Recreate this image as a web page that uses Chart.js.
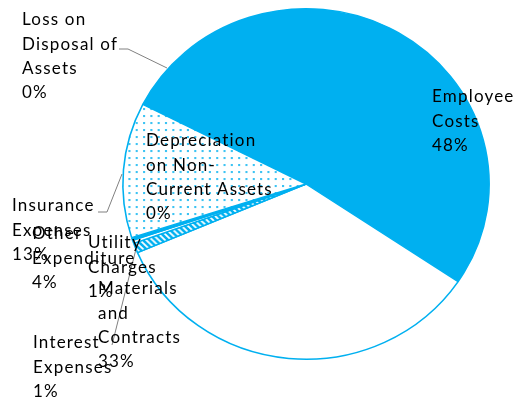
<!DOCTYPE html>
<html>
<head>
<meta charset="utf-8">
<script src="https://cdn.jsdelivr.net/npm/chart.js@4"></script>
<style>
  html, body { margin: 0; padding: 0; background: #fff; }
  #wrap { width: 526px; height: 402px; }
</style>
</head>
<body>
<div id="wrap"><canvas id="pie" width="526" height="402"></canvas></div>
<script>
// slice names (split into the lines they are shown on)
const categories = [
    ['Employee', 'Costs'],
    ['Materials', 'and', 'Contracts'],
    ['Interest', 'Expenses'],
    ['Utility', 'Charges'],
    ['Other', 'Expenditure'],
    ['Insurance', 'Expenses'],
    ['Depreciation', 'on Non-', 'Current Assets'],
    ['Loss on', 'Disposal of', 'Assets']
];
// slice sizes as they are drawn in the picture
const sliceValues = [51.9, 34.2, 0.9, 0.3, 0.25, 12.45, 0, 0];
// percentages printed in the data labels
const pctLabels = ['48%', '33%', '1%', '1%', '4%', '13%', '0%', '0%'];

const BLUE = '#00B0F0';

function dotPattern() {
    const c = document.createElement('canvas');
    c.width = 7; c.height = 7;
    const g = c.getContext('2d');
    g.fillStyle = '#fff';
    g.fillRect(0, 0, 7, 7);
    g.fillStyle = '#3cc3f3';
    g.fillRect(3, 3, 2, 2);
    return g.createPattern(c, 'repeat');
}

function hatchPattern() {
    const c = document.createElement('canvas');
    c.width = 6; c.height = 6;
    const g = c.getContext('2d');
    g.fillStyle = '#fff';
    g.fillRect(0, 0, 6, 6);
    g.strokeStyle = BLUE;
    g.lineWidth = 2.5;
    g.beginPath();
    g.moveTo(-1, -1); g.lineTo(7, 7);
    g.moveTo(-4, 2); g.lineTo(4, 10);
    g.moveTo(2, -4); g.lineTo(10, 4);
    g.stroke();
    return g.createPattern(c, 'repeat');
}

// where each label starts (x, centre of first line) and its leader line
const labelPos = [[432, 97], [98, 289], [33, 343], [88, 243], [32, 234], [12, 206], [146, 141], [22, 20]];
const leaders = [
    null, null,
    [[112, 345], [136, 249]],
    null, null,
    [[98, 212], [107, 212], [122, 174]],
    null,
    [[119, 49], [128, 49], [167, 68]]
];

// pie is drawn a little wider than tall, like the original
const stretchPlugin = {
    id: 'stretch',
    beforeDatasetsDraw(chart) {
        const a = chart.chartArea;
        const cx = (a.left + a.right) / 2;
        chart.ctx.save();
        chart.ctx.translate(cx, 0);
        chart.ctx.scale(1.045, 1);
        chart.ctx.translate(-cx, 0);
    },
    afterDatasetsDraw(chart) {
        chart.ctx.restore();
    }
};

const labelPlugin = {
    id: 'pieLabels',
    afterDatasetsDraw(chart) {
        const ctx = chart.ctx;
        ctx.save();
        ctx.strokeStyle = '#808080';
        ctx.lineWidth = 1;
        leaders.forEach(pts => {
            if (!pts) return;
            ctx.beginPath();
            ctx.moveTo(pts[0][0], pts[0][1]);
            for (let i = 1; i < pts.length; i++) ctx.lineTo(pts[i][0], pts[i][1]);
            ctx.stroke();
        });
        ctx.fillStyle = '#000';
        ctx.font = '17px Lato, "Open Sans", sans-serif';
        ctx.letterSpacing = '1.2px';
        ctx.textBaseline = 'middle';
        ctx.textAlign = 'left';
        chart.data.labels.forEach((lines, i) => {
            const [x, y] = labelPos[i];
            const all = lines.concat([pctLabels[i]]);
            all.forEach((t, k) => ctx.fillText(t, x, y + k * 24.3));
        });
        ctx.restore();
    }
};

new Chart(document.getElementById('pie'), {
    type: 'pie',
    data: {
        labels: categories,
        datasets: [{
            data: sliceValues,
            backgroundColor: [BLUE, '#fff', hatchPattern(), '#fff', BLUE, dotPattern(), '#fff', '#fff'],
            borderColor: BLUE,
            borderWidth: 1.5
        }]
    },
    options: {
        responsive: false,
        animation: false,
        rotation: 297,
        layout: { padding: { left: 130, right: 44, top: 8, bottom: 42 } },
        plugins: {
            legend: { display: false },
            tooltip: { enabled: false }
        }
    },
    plugins: [stretchPlugin, labelPlugin]
});
</script>
</body>
</html>
